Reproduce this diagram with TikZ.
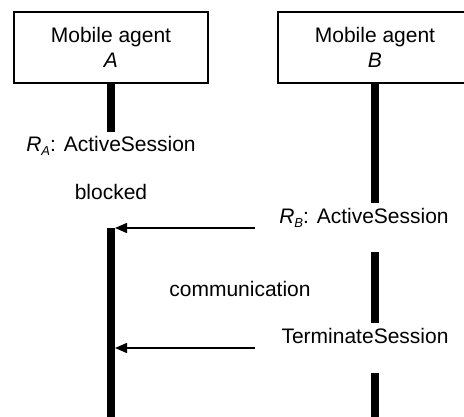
\documentclass[tikz,border=0pt]{standalone}
\usepackage{fontspec}
\setmainfont{Liberation Sans}
\usetikzlibrary{arrows.meta}
\newcommand{\lowsub}[1]{\raisebox{-3.5pt}{\fontsize{13}{13}\selectfont\textit{#1}}}
\begin{document}
\begin{tikzpicture}[x=1pt,y=-1pt,
  agent/.style={draw,line width=1.4pt,minimum width=194pt,minimum height=71pt,
    align=center,font=\fontsize{21}{25}\selectfont,inner sep=0pt},
  lbl/.style={font=\fontsize{21}{25}\selectfont,anchor=base,inner sep=0pt},
  life/.style={line width=8pt,line cap=butt},
  msg/.style={line width=1.5pt,-{Triangle[length=12pt,width=10pt]}}]
\clip (0,0) rectangle (464,417);
\node[agent] (A) at (111,47.5) {Mobile agent\\\textit{A}};
\node[agent] (B) at (375,47.5) {Mobile agent\\\textit{B}};
% lifeline A
\coordinate (a1) at (111,132);
\coordinate (a2) at (111,228);
\coordinate (a3) at (111,417);
\draw[life] (A.south) -- (a1);
\draw[life] (a2) -- (a3);
% lifeline B
\coordinate (b1) at (375,203);
\coordinate (b2) at (375,252);
\coordinate (b3) at (375,323);
\coordinate (b4) at (375,373);
\coordinate (b5) at (375,417);
\draw[life] (B.south) -- (b1);
\draw[life] (b2) -- (b3);
\draw[life] (b4) -- (b5);
% labels
\node[lbl] (ra) at (111,152) {\textit{R}\lowsub{A}: ActiveSession};
\node[lbl] (blk) at (111,200) {blocked};
\node[lbl] (rb) at (364,224) {\textit{R}\lowsub{B}: ActiveSession};
\node[lbl] (com) at (240,297) {communication};
\node[lbl] (term) at (365,344) {TerminateSession};
% messages
\coordinate (m1s) at (255,228);
\coordinate (m1e) at (115,228);
\coordinate (m2s) at (255,348);
\coordinate (m2e) at (115,348);
\draw[msg] (m1s) -- (m1e);
\draw[msg] (m2s) -- (m2e);
\end{tikzpicture}
\end{document}
